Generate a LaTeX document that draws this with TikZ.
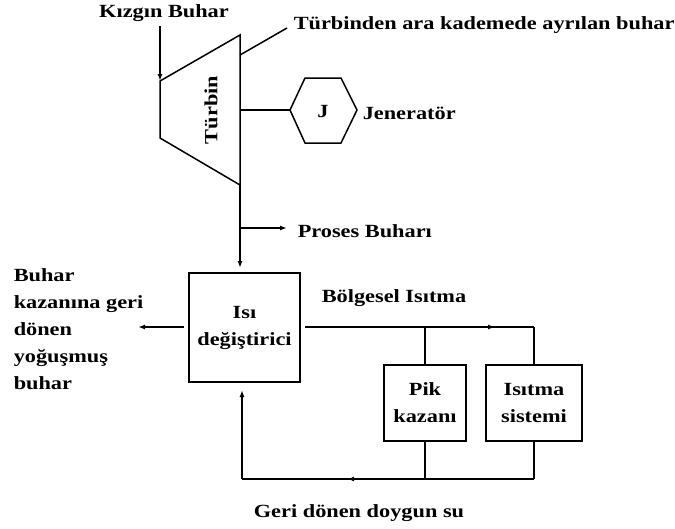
\documentclass[tikz,border=0pt]{standalone}
\usepackage{fontspec}
\setmainfont{Liberation Serif}[FakeStretch=1.2]
\usetikzlibrary{arrows.meta,decorations.markings}
\begin{document}
\begin{tikzpicture}[x=1pt,y=-1pt,
  line width=1.5pt,
  every node/.style={font=\fontsize{18.6}{27}\selectfont\bfseries, inner sep=0pt},
  lbl/.style={anchor=west},
  unit/.style={draw, align=center},
  tip/.style={-{Latex[length=7pt,width=5pt]}},
  midtip/.style={postaction={decorate},
    decoration={markings, mark=at position #1 with {\arrow{Latex[length=7pt,width=5pt]}}}}]
\useasboundingbox (0,0) rectangle (675,528);

% turbine casing
\coordinate (tin) at (160,81);
\coordinate (tout) at (240,185);
\draw (tin) -- (240,35) -- (tout) -- (160,138) -- cycle;
\node[rotate=90] (turb) at (211,110) {Türbin};

% superheated steam inlet
\node (kb) at (164,13) {Kızgın Buhar};
\coordinate (kbs) at (160,26);
\draw[tip] (kbs) -- (tin);

% extraction steam
\coordinate (ex0) at (240,55);
\coordinate (ex1) at (287,28);
\draw (ex0) -- (ex1);
\node[lbl] (exl) at (293,25) {Türbinden ara kademede ayrılan buhar};

% generator
\coordinate (hl) at (290,110);
\draw (hl) -- (305,78) -- (341,78) -- (357,110) -- (341,143) -- (305,143) -- cycle;
\node (gen) at (323,111) {J};
\node[lbl] (genl) at (362,113) {Jeneratör};
\coordinate (shaft) at (240,110);
\draw (shaft) -- (hl);

% heat exchanger
\node[unit, minimum width=111pt, minimum height=109pt] (hx) at (244.5,327.5) {Isı\\değiştirici};
\coordinate (hxin) at (240,268);
\draw[tip] (tout) -- (hxin);
\coordinate (pb0) at (240,228);
\coordinate (pb1) at (287,228);
\draw[tip] (pb0) -- (pb1);
\node[lbl] (pbl) at (297,231) {Proses Buharı};

% condensate back to boiler
\coordinate (cb0) at (184,327);
\coordinate (cb) at (138,327);
\draw[tip] (cb0) -- (cb);
\node[lbl, align=left] (cbl) at (13,329) {Buhar\\kazanına geri\\dönen\\yoğuşmuş\\buhar};

% district heating loop
\node[unit, minimum width=82pt, minimum height=76pt] (pik) at (425,403) {Pik\\kazanı};
\node[unit, minimum width=96pt, minimum height=76pt] (isi) at (534,403) {Isıtma\\sistemi};
\node[lbl] (bil) at (321,298) {Bölgesel Isıtma};
\coordinate (s0) at (305,327);
\coordinate (s1) at (pik.north |- s0);
\coordinate (s2) at (isi.north |- s0);
\draw[midtip=0.83] (s0) -- (s2);
\draw (s1) -- (pik.north);
\draw (s2) -- (isi.north);

\coordinate (r1) at (pik.south |- 0,479);
\coordinate (r2) at (isi.south |- 0,479);
\coordinate (r3) at (242,479);
\coordinate (r4) at (242,390);
\draw (pik.south) -- (r1);
\draw (isi.south) -- (r2);
\draw[midtip=0.64] (r2) -- (r3);
\draw[tip] (r3) -- (r4);
\node (gdl) at (359,513) {Geri dönen doygun su};
\end{tikzpicture}
\end{document}
